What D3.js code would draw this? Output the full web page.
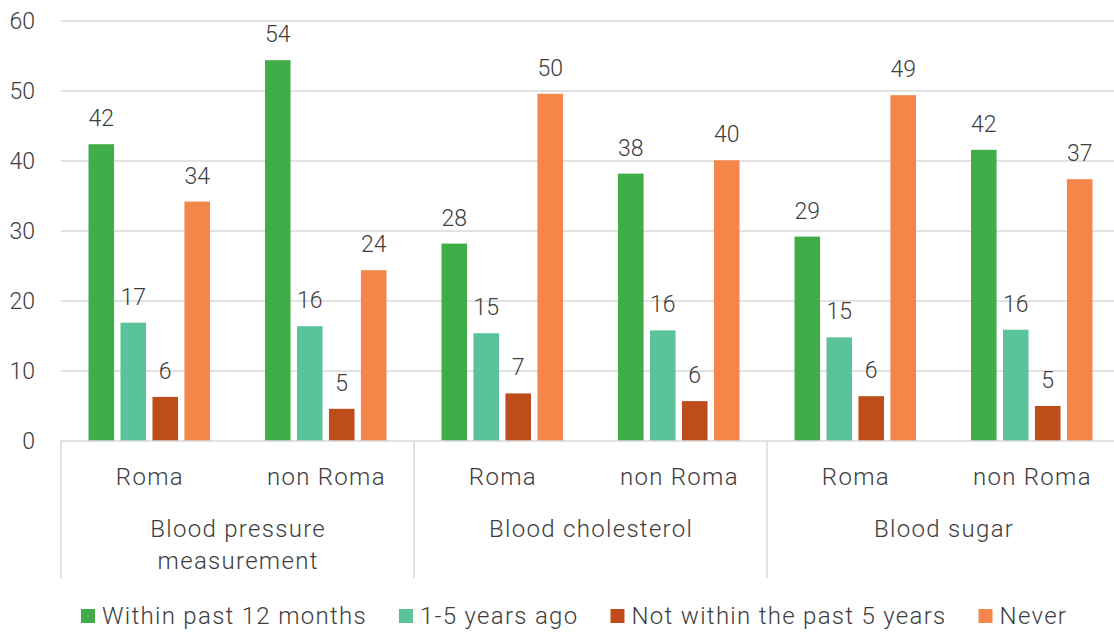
<!DOCTYPE html>
<html>
<head>
<meta charset="utf-8">
<script src="https://cdn.jsdelivr.net/npm/d3@7"></script>
<style>
  html, body { margin: 0; padding: 0; background: #fff; }
  svg text { font-family: Roboto, "Noto Sans", sans-serif; font-weight: 300; fill: #3d3d3d; }
  svg text.word { letter-spacing: 1.3px; font-size: 24px; }
</style>
</head>
<body>
<svg id="chart" width="1114" height="632"></svg>
<script>
// Health screening by population group (%)
const groups = ["Blood pressure measurement", "Blood cholesterol", "Blood sugar"];
const groupLines = [["Blood pressure", "measurement"], ["Blood cholesterol"], ["Blood sugar"]];
const populations = ["Roma", "non Roma"];
const seriesNames = ["Within past 12 months", "1-5 years ago", "Not within the past 5 years", "Never"];
const seriesColors = ["#41ad49", "#5bc39c", "#be4d1b", "#f4864a"];

// values in order: BP Roma, BP non Roma, Chol Roma, Chol non Roma, Sugar Roma, Sugar non Roma
const within12 = [42.4, 54.4, 28.2, 38.2, 29.2, 41.6];
const years1to5 = [16.9, 16.4, 15.4, 15.8, 14.8, 15.9];
const notWithin5 = [6.3, 4.6, 6.8, 5.7, 6.4, 5.0];
const never = [34.2, 24.4, 49.6, 40.1, 49.4, 37.4];
const yTicks = [0, 10, 20, 30, 40, 50, 60];

const seriesValues = [within12, years1to5, notWithin5, never];

(function draw() {
  const svg = d3.select("#chart");
  const plotLeft = 61, plotRight = 1114, plotTop = 21, plotBottom = 441;
  const axisRight = 1120;

  const y = d3.scaleLinear().domain([0, 60]).range([plotBottom, plotTop]);
  const xGroup = d3.scaleBand().domain(groups).range([plotLeft, axisRight]);
  const xPop = d3.scaleBand().domain(populations).range([0, xGroup.bandwidth()]);
  const xSeries = d3.scaleBand().domain(seriesNames).range([0, xPop.bandwidth()])
    .paddingInner(0.2).paddingOuter(0.86);

  // gridlines
  svg.append("g").selectAll("line").data(yTicks.filter(t => t > 0)).join("line")
    .attr("x1", plotLeft).attr("x2", plotRight)
    .attr("y1", d => y(d)).attr("y2", d => y(d))
    .attr("stroke", "#d9d9d9").attr("stroke-width", 1.3);

  // y tick labels
  svg.append("g").selectAll("text").data(yTicks).join("text")
    .attr("x", 35).attr("y", d => y(d)).attr("dy", "0.35em")
    .attr("text-anchor", "end").attr("font-size", 23)
    .text(d => d);

  // bars
  const rows = [];
  groups.forEach((g, gi) => populations.forEach((p, pi) => {
    const idx = gi * 2 + pi;
    seriesNames.forEach((s, si) => rows.push({ g, p, s, si, v: seriesValues[si][idx] }));
  }));
  const barX = d => xGroup(d.g) + xPop(d.p) + xSeries(d.s);

  svg.append("g").selectAll("rect").data(rows).join("rect")
    .attr("x", barX).attr("width", xSeries.bandwidth())
    .attr("y", d => y(d.v)).attr("height", d => y(0) - y(d.v))
    .attr("fill", d => seriesColors[d.si]);

  // value labels
  const fmt = d3.format(".0f");
  svg.append("g").selectAll("text").data(rows).join("text")
    .attr("x", d => barX(d) + xSeries.bandwidth() / 2)
    .attr("y", d => y(d.v) - 18)
    .attr("text-anchor", "middle").attr("font-size", 23)
    .text(d => fmt(d.v));

  // category axis
  svg.append("line").attr("x1", plotLeft).attr("x2", plotRight)
    .attr("y1", plotBottom).attr("y2", plotBottom)
    .attr("stroke", "#d9d9d9").attr("stroke-width", 1.5);
  svg.append("g").selectAll("line").data(groups.map(g => xGroup(g)).concat([axisRight])).join("line")
    .attr("x1", d => d).attr("x2", d => d).attr("y1", plotBottom).attr("y2", 578)
    .attr("stroke", "#d9d9d9").attr("stroke-width", 1.5);

  const popLabels = [];
  groups.forEach(g => populations.forEach(p => popLabels.push({ g, p })));
  svg.append("g").selectAll("text").data(popLabels).join("text")
    .attr("class", "word")
    .attr("x", d => xGroup(d.g) + xPop(d.p) + xPop.bandwidth() / 2 + 0.65)
    .attr("y", 485).attr("text-anchor", "middle")
    .text(d => d.p);

  const gl = svg.append("g").selectAll("text").data(groups).join("text")
    .attr("class", "word")
    .attr("x", d => xGroup(d) + xGroup.bandwidth() / 2 + 0.65)
    .attr("y", 537).attr("text-anchor", "middle");
  gl.selectAll("tspan").data((d, i) => groupLines[i]).join("tspan")
    .attr("x", function () { return d3.select(this.parentNode).attr("x"); })
    .attr("dy", (d, i) => i === 0 ? 0 : 32)
    .text(d => d);

  // legend
  const legend = svg.append("g");
  let lx = 81;
  seriesNames.forEach((s, i) => {
    legend.append("rect").attr("x", lx).attr("y", 609).attr("width", 14).attr("height", 14)
      .attr("fill", seriesColors[i]);
    const t = legend.append("text").attr("class", "word").attr("x", lx + 21).attr("y", 624)
      .text(s);
    lx += 21 + t.node().getComputedTextLength() + 32;
  });
})();
</script>
</body>
</html>
